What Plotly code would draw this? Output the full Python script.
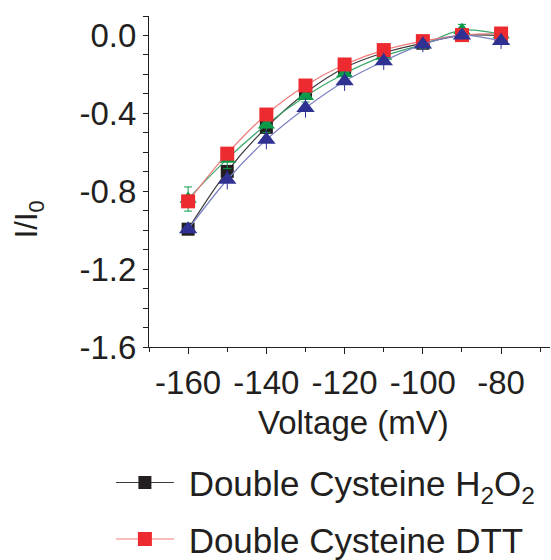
import plotly.graph_objects as go

voltage = [-160, -150, -140, -130, -120, -110, -100, -90, -80]

h2o2_y = [-0.995, -0.698, -0.472, -0.295, -0.166, -0.089, -0.040, 0.000, 0.000]
h2o2_err = [0.02, 0.03, 0.03, 0.02, 0.02, 0.015, 0.01, 0.01, 0.01]

dtt_y = [-0.852, -0.607, -0.406, -0.257, -0.149, -0.075, -0.029, 0.002, 0.010]
dtt_err = [0.02, 0.02, 0.02, 0.02, 0.015, 0.01, 0.01, 0.01, 0.01]

green_y = [-0.840, -0.634, -0.458, -0.312, -0.195, -0.106, -0.046, 0.027, 0.005]
green_err = [0.062, 0.05, 0.04, 0.03, 0.03, 0.03, 0.02, 0.03, 0.02]

blue_y = [-0.995, -0.741, -0.535, -0.372, -0.235, -0.132, -0.046, 0.000, -0.029]
blue_err = [0.02, 0.05, 0.05, 0.05, 0.05, 0.045, 0.04, 0.02, 0.04]

x_ticks = [-160, -140, -120, -100, -80]
x_ticktext = ["-160", "-140", "-120", "-100", "-80"]
y_ticks = [0.0, -0.4, -0.8, -1.2, -1.6]
y_ticktext = ["0.0", "-0.4", "-0.8", "-1.2", "-1.6"]

FONT = "Liberation Sans, Arial, sans-serif"
TXT = "#231f20"

fig = go.Figure()

def add(name, y, err, mcol, lcol, symbol, size, show, group, capw):
    fig.add_trace(go.Scatter(
        x=voltage, y=y, name=name, mode="lines+markers",
        line=dict(color=lcol, width=1.2, shape="spline", smoothing=1.0),
        marker=dict(color=mcol, symbol=symbol, size=size, line=dict(width=0)),
        error_y=dict(type="data", array=err, visible=True, color=mcol,
                     thickness=1, width=capw),
        showlegend=show, legendgroup=group,
    ))

add("\u00a0Double Cysteine H<sub>2</sub>O<sub>2</sub>", h2o2_y, h2o2_err,
    "#231f20", "#3a3a3a", "square", 13, True, "a", 3)
add("Single Cysteine H2O2", green_y, green_err,
    "#0a9a4a", "#3aa86a", "triangle-up", 15, False, "c", 4)
add("\u00a0Double Cysteine DTT", dtt_y, dtt_err,
    "#ec2a30", "#f07a7a", "square", 14, True, "b", 3)
add("Single Cysteine DTT", blue_y, blue_err,
    "#2e3192", "#7a80c0", "triangle-up", 16, False, "d", 0)

fig.update_layout(
    width=551, height=560,
    margin=dict(l=149, r=1, t=16, b=213, autoexpand=False),
    paper_bgcolor="white", plot_bgcolor="white",
    font=dict(family=FONT, size=32, color=TXT),
    legend=dict(
        x=-0.095, xanchor="left", y=-0.321, yanchor="top",
        font=dict(family=FONT, size=35, color=TXT),
        bgcolor="rgba(0,0,0,0)", itemwidth=58,
        traceorder="grouped", tracegroupgap=8,
    ),
    annotations=[
        dict(text="Voltage (mV)", xref="paper", yref="paper",
             x=0.51, y=-0.229, xanchor="center", yanchor="middle",
             showarrow=False, font=dict(family=FONT, size=33, color=TXT)),
        dict(text="I/I<sub>0</sub>", xref="paper", yref="paper",
             x=-0.30, y=0.385, xanchor="center", yanchor="middle",
             textangle=-90, showarrow=False,
             font=dict(family=FONT, size=31, color=TXT)),
    ],
)

fig.update_xaxes(
    range=[-170, -67.5], showgrid=False, zeroline=False,
    showline=True, linecolor=TXT, linewidth=1,
    tickvals=x_ticks, ticktext=x_ticktext,
    ticks="outside", ticklen=6, tickcolor=TXT, tickwidth=1,
    minor=dict(dtick=10, tick0=-170, ticks="outside", ticklen=4, tickcolor=TXT),
    tickfont=dict(family=FONT, size=33, color=TXT),
)
fig.update_yaxes(
    range=[-1.6, 0.1], showgrid=False, zeroline=False,
    showline=True, linecolor=TXT, linewidth=1,
    tickvals=y_ticks, ticktext=y_ticktext,
    ticks="outside", ticklen=5, tickcolor=TXT, tickwidth=1,
    minor=dict(dtick=0.1, tick0=0, ticks="outside", ticklen=5, tickcolor=TXT),
    tickfont=dict(family=FONT, size=33, color=TXT),
)

fig.write_html("out.html")
